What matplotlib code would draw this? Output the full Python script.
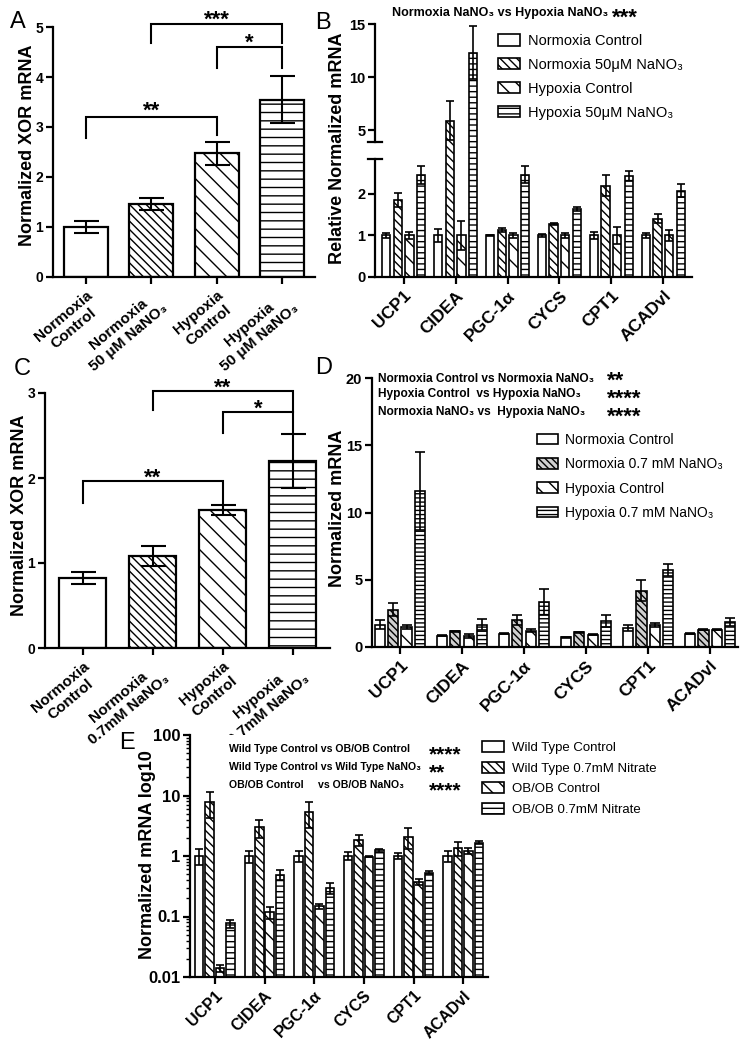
import numpy as np
import matplotlib
matplotlib.use('Agg')
import matplotlib.pyplot as plt

plt.rcParams.update({
    'font.family': ['Liberation Sans', 'DejaVu Sans'],
    'font.weight': 'bold',
    'axes.linewidth': 1.6,
    'hatch.linewidth': 1.0,
    'xtick.major.width': 1.6, 'ytick.major.width': 1.6,
    'xtick.major.size': 5, 'ytick.major.size': 5,
    'ytick.minor.width': 1.0, 'ytick.minor.size': 3,
    'xtick.major.pad': 3, 'ytick.major.pad': 2,
})

# ---------------- data ----------------
a_labels = ['Normoxia\nControl', 'Normoxia\n50 μM NaNO₃', 'Hypoxia\nControl', 'Hypoxia\n50 μM NaNO₃']
a_means = [1.00, 1.47, 2.48, 3.55]
a_sems = [0.12, 0.12, 0.23, 0.47]

c_labels = ['Normoxia\nControl', 'Normoxia\n0.7mM NaNO₃', 'Hypoxia\nControl', 'Hypoxia\n0.7mM NaNO₃']
c_means = [0.82, 1.08, 1.62, 2.20]
c_sems = [0.07, 0.12, 0.06, 0.32]

genes = ['UCP1', 'CIDEA', 'PGC-1α', 'CYCS', 'CPT1', 'ACADvl']

b_series = ['Normoxia Control', 'Normoxia 50μM NaNO₃', 'Hypoxia Control', 'Hypoxia 50μM NaNO₃']
b_norm_ctrl = [1.0, 1.0, 1.0, 1.0, 1.0, 1.0]
b_norm_ctrl_err = [0.06, 0.15, 0.02, 0.04, 0.08, 0.06]
b_norm_nano3 = [1.85, 5.9, 1.13, 1.28, 2.2, 1.4]
b_norm_nano3_err = [0.17, 1.85, 0.04, 0.03, 0.26, 0.11]
b_hyp_ctrl = [1.0, 1.0, 1.0, 1.0, 1.0, 1.0]
b_hyp_ctrl_err = [0.08, 0.35, 0.07, 0.05, 0.2, 0.14]
b_hyp_nano3 = [2.46, 12.3, 2.46, 1.63, 2.44, 2.08]
b_hyp_nano3_err = [0.22, 2.5, 0.2, 0.05, 0.12, 0.15]

d_series = ['Normoxia Control', 'Normoxia 0.7 mM NaNO₃', 'Hypoxia Control', 'Hypoxia 0.7 mM NaNO₃']
d_norm_ctrl = [1.66, 0.84, 0.99, 0.72, 1.41, 0.99]
d_norm_ctrl_err = [0.32, 0.05, 0.05, 0.05, 0.25, 0.03]
d_norm_nano3 = [2.78, 1.16, 2.03, 1.09, 4.19, 1.29]
d_norm_nano3_err = [0.5, 0.05, 0.37, 0.05, 0.77, 0.03]
d_hyp_ctrl = [1.46, 0.79, 1.21, 0.92, 1.66, 1.29]
d_hyp_ctrl_err = [0.15, 0.15, 0.1, 0.05, 0.15, 0.05]
d_hyp_nano3 = [11.6, 1.66, 3.35, 1.9, 5.75, 1.86]
d_hyp_nano3_err = [2.9, 0.4, 0.95, 0.45, 0.45, 0.3]

e_series = ['Wild Type Control', 'Wild Type 0.7mM Nitrate', 'OB/OB Control', 'OB/OB 0.7mM Nitrate']
e_wt_ctrl = [1.0, 1.0, 1.0, 1.0, 1.0, 1.0]
e_wt_ctrl_err = [0.3, 0.22, 0.2, 0.15, 0.12, 0.2]
e_wt_nitrate = [7.9, 3.0, 5.3, 1.85, 2.1, 1.34]
e_wt_nitrate_err = [3.7, 1.0, 2.4, 0.38, 0.8, 0.35]
e_ob_ctrl = [0.014, 0.117, 0.147, 0.97, 0.37, 1.21]
e_ob_ctrl_err = [0.002, 0.025, 0.012, 0.02, 0.04, 0.13]
e_ob_nitrate = [0.077, 0.49, 0.296, 1.24, 0.527, 1.67]
e_ob_nitrate_err = [0.012, 0.09, 0.06, 0.06, 0.03, 0.07]

# ---------------- figure ----------------
W, H = 750, 1049
fig = plt.figure(figsize=(W / 100, H / 100), dpi=100)


def ax_px(l, r, t, b):
    return fig.add_axes([l / W, 1 - b / H, (r - l) / W, (b - t) / H])


def ftext(x, y, s, **kw):
    return fig.text(x / W, 1 - y / H, s, **kw)


def style_axes(ax, size=10):
    ax.spines['top'].set_visible(False)
    ax.spines['right'].set_visible(False)
    ax.tick_params(axis='y', labelsize=size)
    for lab in ax.get_yticklabels():
        lab.set_fontweight('bold')


def bracket(ax, x0, x1, y, yl, yr, stars, fs=16, off=0):
    ax.plot([x0, x0, x1, x1], [yl, y, y, yr], color='black', lw=1.5, clip_on=False,
            solid_joinstyle='miter', zorder=4)
    ax.annotate(stars, xy=((x0 + x1) / 2, y), xytext=(0, off), textcoords='offset points',
                ha='center', va='baseline', fontsize=fs, fontweight='bold', annotation_clip=False)


SOLID = dict(fc='white', hatch=None)
DENSE = dict(fc='white', hatch='\\\\\\\\')
DIAG = dict(fc='white', hatch='\\\\')


def simple_panel(ax, labels, means, sems, hstyles, capsize):
    x = np.arange(len(means))
    for i in range(len(means)):
        st = hstyles[i]
        ax.bar(x[i], means[i], 0.67, color=st['fc'], edgecolor='black', hatch=st['hatch'],
               linewidth=1.6, zorder=2)
    ax.errorbar(x, means, yerr=sems, fmt='none', ecolor='black', elinewidth=1.5,
                capsize=capsize, capthick=1.5, zorder=3)
    ax.set_xticks(x)
    ax.set_xticklabels(labels, rotation=40, ha='right', va='top', rotation_mode='anchor',
                       fontsize=11, fontweight='bold', multialignment='center')


def grouped(ax, vals, errs, styles, names, step, width, capsize, lw=1.2, bottom=0.0):
    x = np.arange(len(genes))
    for i in range(4):
        xi = x + (i - 1.5) * step
        v = np.asarray(vals[i], float)
        st = styles[i]
        ax.bar(xi, v - bottom, width, bottom=bottom, color=st['fc'], edgecolor='black',
               hatch=st['hatch'], linewidth=lw, zorder=2, label=names[i])
        ax.errorbar(xi, v, yerr=errs[i], fmt='none', ecolor='black', elinewidth=1.2,
                    capsize=capsize, capthick=1.2, zorder=3)
    ax.set_xticks(x)


# ---------------- Panel A ----------------
axA = ax_px(53, 315, 27, 277)
simple_panel(axA, a_labels, a_means, a_sems,
             [SOLID, DENSE, DIAG, dict(fc='white', hatch='--')], 9)
axA.set_xlim(-0.5, 3.5)
axA.set_ylim(0, 5)
axA.set_yticks([0, 1, 2, 3, 4, 5])
style_axes(axA)
bracket(axA, 0, 2, 3.2, 2.78, 2.84, '**', off=0)
bracket(axA, 1, 3, 5.06, 4.68, 4.68, '***', off=-1)
bracket(axA, 2, 3, 4.6, 4.18, 4.18, '*', off=-1)
ftext(28, 145, 'Normalized XOR mRNA', rotation=90, ha='center', va='center', fontsize=13)

# ---------------- Panel B (broken axis) ----------------
axB = ax_px(375, 692, 24, 277)
lo_top, hi_bot, top = 2.84, 3.9, 15.0
k1 = 118 / lo_top
kg = 17 / (hi_bot - lo_top)
k2 = 118 / (top - hi_bot)


def fwdB(y):
    y = np.asarray(y, float)
    return np.where(y <= lo_top, y * k1,
                    np.where(y < hi_bot, 118 + (y - lo_top) * kg, 135 + (y - hi_bot) * k2))


def invB(u):
    u = np.asarray(u, float)
    return np.where(u <= 118, u / k1,
                    np.where(u < 135, lo_top + (u - 118) / kg, hi_bot + (u - 135) / k2))


axB.set_yscale('function', functions=(fwdB, invB))
grouped(axB, [b_norm_ctrl, b_norm_nano3, b_hyp_ctrl, b_hyp_nano3],
        [b_norm_ctrl_err, b_norm_nano3_err, b_hyp_ctrl_err, b_hyp_nano3_err],
        [SOLID, DENSE, DIAG, dict(fc='white', hatch='---')], b_series, 0.225, 0.16, 3)
axB.set_xlim(-0.55, 5.55)
axB.set_ylim(0, top)
axB.set_yticks([0, 1, 2, 5, 10, 15])
axB.set_yticklabels(['0', '1', '2', '5', '10', '15'])
axB.yaxis.set_minor_locator(matplotlib.ticker.NullLocator())
style_axes(axB, 10.5)
axB.spines['left'].set_visible(False)
ytr = axB.get_yaxis_transform()
axB.plot([0, 0], [0, lo_top], color='black', lw=1.6, transform=ytr, clip_on=False)
axB.plot([0, 0], [hi_bot, top], color='black', lw=1.6, transform=ytr, clip_on=False)
axB.plot([-0.022, 0.022], [lo_top, lo_top], color='black', lw=1.6, transform=ytr, clip_on=False)
axB.plot([-0.022, 0.022], [hi_bot, hi_bot], color='black', lw=1.6, transform=ytr, clip_on=False)
axB.set_xticklabels(genes, rotation=45, ha='right', va='top', rotation_mode='anchor',
                    fontsize=12.5, fontweight='bold')
axB.legend(loc='upper left', bbox_to_anchor=(498 / W, 1 - 34 / H), bbox_transform=fig.transFigure,
           frameon=False, borderpad=0, prop={'weight': 'normal', 'size': 10.5},
           handlelength=1.5, handleheight=0.8, handletextpad=0.55, labelspacing=0.68,
           borderaxespad=0)
ftext(338, 148, 'Relative Normalized mRNA', rotation=90, ha='center', va='center', fontsize=13)
ftext(392, 13, 'Normoxia NaNO₃ vs Hypoxia NaNO₃', ha='left', va='center', fontsize=9)
ftext(612, 24, '***', ha='left', va='baseline', fontsize=16)

# ---------------- Panel C ----------------
axC = ax_px(45, 330, 393, 648)
simple_panel(axC, c_labels, c_means, c_sems,
             [SOLID, DENSE, DIAG, dict(fc='white', hatch='--')], 9)
axC.set_xlim(-0.54, 3.53)
axC.set_ylim(0, 3)
axC.set_yticks([0, 1, 2, 3])
style_axes(axC)
bracket(axC, 0, 2, 1.96, 1.71, 1.70, '**', off=-2)
bracket(axC, 1, 3, 3.02, 2.80, 2.78, '**', off=-2)
bracket(axC, 2, 3, 2.78, 2.53, 2.53, '*', off=-2)
ftext(20, 515, 'Normalized XOR mRNA', rotation=90, ha='center', va='center', fontsize=13)

# ---------------- Panel D ----------------
axD = ax_px(372, 738, 378, 647)
grouped(axD, [d_norm_ctrl, d_norm_nano3, d_hyp_ctrl, d_hyp_nano3],
        [d_norm_ctrl_err, d_norm_nano3_err, d_hyp_ctrl_err, d_hyp_nano3_err],
        [SOLID, dict(fc='#cfcfcf', hatch='\\\\\\\\\\'), DIAG, dict(fc='white', hatch='----')],
        d_series, 0.215, 0.165, 3.5)
axD.set_xlim(-0.45, 5.45)
axD.set_ylim(0, 20)
axD.set_yticks([0, 5, 10, 15, 20])
style_axes(axD, 10.5)
axD.set_xticklabels(genes, rotation=45, ha='right', va='top', rotation_mode='anchor',
                    fontsize=12.5, fontweight='bold')
axD.legend(loc='upper left', bbox_to_anchor=(537 / W, 1 - 433 / H), bbox_transform=fig.transFigure,
           frameon=False, borderpad=0, prop={'weight': 'normal', 'size': 10},
           handlelength=1.5, handleheight=0.8, handletextpad=0.5, labelspacing=0.74,
           borderaxespad=0)
ftext(338, 508, 'Normalized mRNA', rotation=90, ha='center', va='center', fontsize=13)
ftext(378, 379, 'Normoxia Control vs Normoxia NaNO₃', ha='left', va='center', fontsize=8.6)
ftext(378, 394, 'Hypoxia Control  vs Hypoxia NaNO₃', ha='left', va='center', fontsize=8.6)
ftext(378, 412, 'Normoxia NaNO₃ vs  Hypoxia NaNO₃', ha='left', va='center', fontsize=8.6)
ftext(607, 371, '**\n****\n****', ha='left', va='top', fontsize=16, linespacing=0.79,
      multialignment='left')

# ---------------- Panel E ----------------
axE = ax_px(190, 488, 735, 977)
axE.set_yscale('log')
grouped(axE, [e_wt_ctrl, e_wt_nitrate, e_ob_ctrl, e_ob_nitrate],
        [e_wt_ctrl_err, e_wt_nitrate_err, e_ob_ctrl_err, e_ob_nitrate_err],
        [SOLID, DENSE, DIAG, dict(fc='white', hatch='---')], e_series, 0.21, 0.17, 3,
        bottom=0.01)
axE.set_xlim(-0.5, 5.5)
axE.set_ylim(0.01, 100)
axE.set_yticks([0.01, 0.1, 1, 10, 100])
axE.set_yticklabels(['0.01', '0.1', '1', '10', '100'])
style_axes(axE, 12)
axE.set_xticklabels(genes, rotation=45, ha='right', va='top', rotation_mode='anchor',
                    fontsize=11.5, fontweight='bold')
axE.legend(loc='upper left', bbox_to_anchor=(482 / W, 1 - 741 / H), bbox_transform=fig.transFigure,
           frameon=False, borderpad=0, prop={'weight': 'normal', 'size': 9.5},
           handlelength=1.7, handleheight=0.9, handletextpad=0.6, labelspacing=0.58,
           borderaxespad=0)
ftext(147, 855, 'Normalized mRNA log10', rotation=90, ha='center', va='center', fontsize=13)
ftext(229, 749, 'Wild Type Control vs OB/OB Control', ha='left', va='center', fontsize=7.6)
ftext(229, 767, 'Wild Type Control vs Wild Type NaNO₃', ha='left', va='center', fontsize=7.6)
ftext(229, 785, 'OB/OB Control     vs OB/OB NaNO₃', ha='left', va='center', fontsize=7.6)
ftext(429, 760, '****', ha='left', va='baseline', fontsize=15)
ftext(429, 778, '**', ha='left', va='baseline', fontsize=15)
ftext(429, 796, '****', ha='left', va='baseline', fontsize=15)

# ---------------- panel letters ----------------
for letter, (px, py) in {'A': (18, 22), 'B': (323, 23), 'C': (22, 369),
                         'D': (324, 368), 'E': (127, 743)}.items():
    ftext(px, py, letter, ha='center', va='center', fontsize=17, fontweight='normal')

fig.savefig('out.png', dpi=100)
